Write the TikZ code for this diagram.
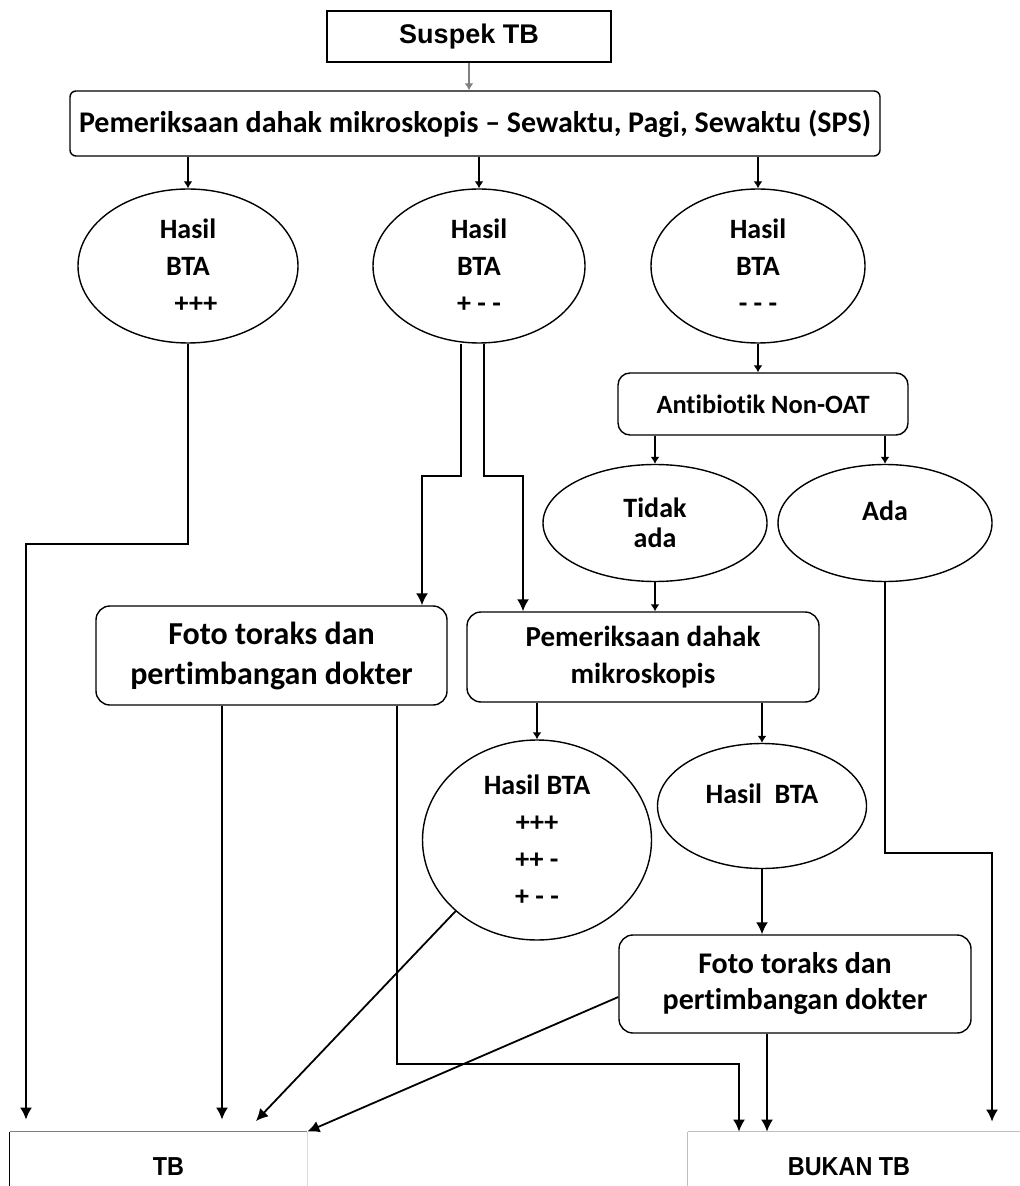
\documentclass[tikz,border=0pt]{standalone}
\usepackage{fontspec}
\setmainfont{Carlito}[Ligatures={TeX,NoCommon}]
\newfontfamily\arialfont{Liberation Sans}
\newfontfamily\narrowfont[FakeStretch=0.9]{Liberation Sans}
\usetikzlibrary{arrows.meta,shapes.geometric}
\tikzset{
  box/.style={
    draw,rectangle,rounded corners=7pt,align=center,line width=0.7pt,
    font=\fontsize{14.5}{18.5}\selectfont\bfseries
  },
  oval/.style={
    draw,ellipse,align=center,inner sep=0pt,line width=0.7pt,
    font=\fontsize{14}{18.5}\selectfont\bfseries
  },
  endbox/.style={
    rectangle,minimum height=35pt,
    font=\narrowfont\fontsize{13}{15}\selectfont\bfseries
  },
  conn/.style={-{Latex[length=6pt,width=6pt]},line width=0.9pt},
  tick/.style={-{Latex[length=3.5pt,width=4.5pt]},line width=1.3pt}
}

\begin{document}
\begin{tikzpicture}[x=0.5pt,y=-0.5pt]
\useasboundingbox (0,0) rectangle (1019,1186);

\node[box,rounded corners=0pt,minimum width=142pt,minimum height=25.5pt,
  font=\arialfont\fontsize{13.5}{15}\selectfont\bfseries] (suspek) at (469,36.5) {Suspek TB};
\node[box,rounded corners=3pt,minimum width=405pt,minimum height=32.5pt,
  font=\fontsize{15}{18}\selectfont\bfseries] (sps) at (475,123.5)
  {Pemeriksaan dahak mikroskopis – Sewaktu, Pagi, Sewaktu (SPS)};

\node[oval,minimum width=110pt,minimum height=77pt] (bta1) at (188,266) {Hasil\\BTA\\\hspace*{8pt}+++};
\node[oval,minimum width=106pt,minimum height=77pt] (bta2) at (479,266) {Hasil\\BTA\\+ - -};
\node[oval,minimum width=107pt,minimum height=77pt] (bta3) at (758,266) {Hasil\\BTA\\- - -};

\node[box,rounded corners=6pt,minimum width=145pt,minimum height=31pt,
  font=\fontsize{13.2}{15}\selectfont\bfseries] (anti) at (763,404) {Antibiotik Non-OAT};
\node[oval,minimum width=112pt,minimum height=58.5pt,
  font=\fontsize{14}{15}\selectfont\bfseries] (tidak) at (655,523) {Tidak\\ada};
\node[oval,minimum width=107pt,minimum height=58.5pt,text depth=12pt] (ada) at (885,523) {Ada};

\node[box,minimum width=175.5pt,minimum height=49.5pt,
  font=\fontsize{16}{20}\selectfont\bfseries] (foto1) at (271.5,655.5)
  {Foto toraks dan\\pertimbangan dokter};
\node[box,minimum width=176pt,minimum height=45pt] (periksa) at (643,657)
  {Pemeriksaan dahak\\mikroskopis};

\node[oval,minimum width=114.5pt,minimum height=100pt] (btaA) at (537,840)
  {Hasil BTA\\+++\\++ -\\+ - -};
\node[oval,minimum width=104.5pt,minimum height=62.5pt,text depth=12pt] (btaB) at (762,806)
  {Hasil\ \ BTA};
\node[box,minimum width=176pt,minimum height=49pt,
  font=\fontsize{15}{18}\selectfont\bfseries] (foto2) at (795,984)
  {Foto toraks dan\\pertimbangan dokter};

\node[endbox,minimum width=148.5pt] (tb) at (158.5,1167) {\hspace*{10pt}TB};
\node[endbox,minimum width=171pt] (bukan) at (859,1167) {BUKAN TB\hspace*{10pt}};

% open borders of the end boxes
\draw[gray,line width=0.8pt] (tb.north west) -- (tb.north east);
\draw[line width=0.8pt] (tb.north west) -- (tb.south west);
\draw[gray!30,line width=0.8pt] (tb.north east) -- (tb.south east);
\draw[gray!50,line width=0.8pt] (bukan.north west) -- (bukan.north east);
\draw[gray!50,line width=0.8pt] (bukan.north west) -- (bukan.south west);

% bend points
\coordinate (b1) at (26,544);
\coordinate (b2) at (422,476);
\coordinate (b3) at (523,476);
\coordinate (b4) at (992,853);
\coordinate (b5) at (739,1064);
\coordinate (tA) at (256,1121);

\draw[tick,gray] (suspek.south) -- (suspek.south |- sps.north);
\draw[tick] (sps.south -| bta1.north) -- (bta1.north);
\draw[tick] (sps.south -| bta2.north) -- (bta2.north);
\draw[tick] (sps.south -| bta3.north) -- (bta3.north);
\draw[tick] (bta3.south) -- (bta3.south |- anti.north);
\draw[tick] (anti.south -| tidak.north) -- (tidak.north);
\draw[tick] (anti.south -| ada.north) -- (ada.north);
\draw[tick] (tidak.south) -- (tidak.south |- periksa.north);
\draw[tick] (periksa.south -| btaA.north) -- (btaA.north);
\draw[tick] (periksa.south -| btaB.north) -- (btaB.north);

\draw[conn,shorten >=6pt] (bta1.south) |- (b1) -- (b1 |- tb.north);
\draw[conn] ([xshift=-9pt]bta2.south) |- (b2) -- (b2 |- foto1.north);
\draw[conn] ([xshift=2.5pt]bta2.south) |- (b3) -- (b3 |- periksa.north);
\draw[conn,shorten >=5pt] (ada.south) |- (b4) -- (b4 |- bukan.north);
\draw[conn] (btaB.south) -- (btaB.south |- foto2.north);

\draw[conn,shorten >=6pt] ([xshift=-24.75pt]foto1.south) -- ([xshift=-24.75pt]foto1.south |- tb.north);
\draw[conn] ([xshift=62.75pt]foto1.south) |- (b5) -- (b5 |- bukan.north);
\draw[conn] (btaA.south west) -- (tA);
\draw[conn] ([yshift=-6.5pt]foto2.west) -- (tb.north east);
\draw[conn] ([xshift=-14pt]foto2.south) -- ([xshift=-14pt]foto2.south |- bukan.north);

\end{tikzpicture}
\end{document}
